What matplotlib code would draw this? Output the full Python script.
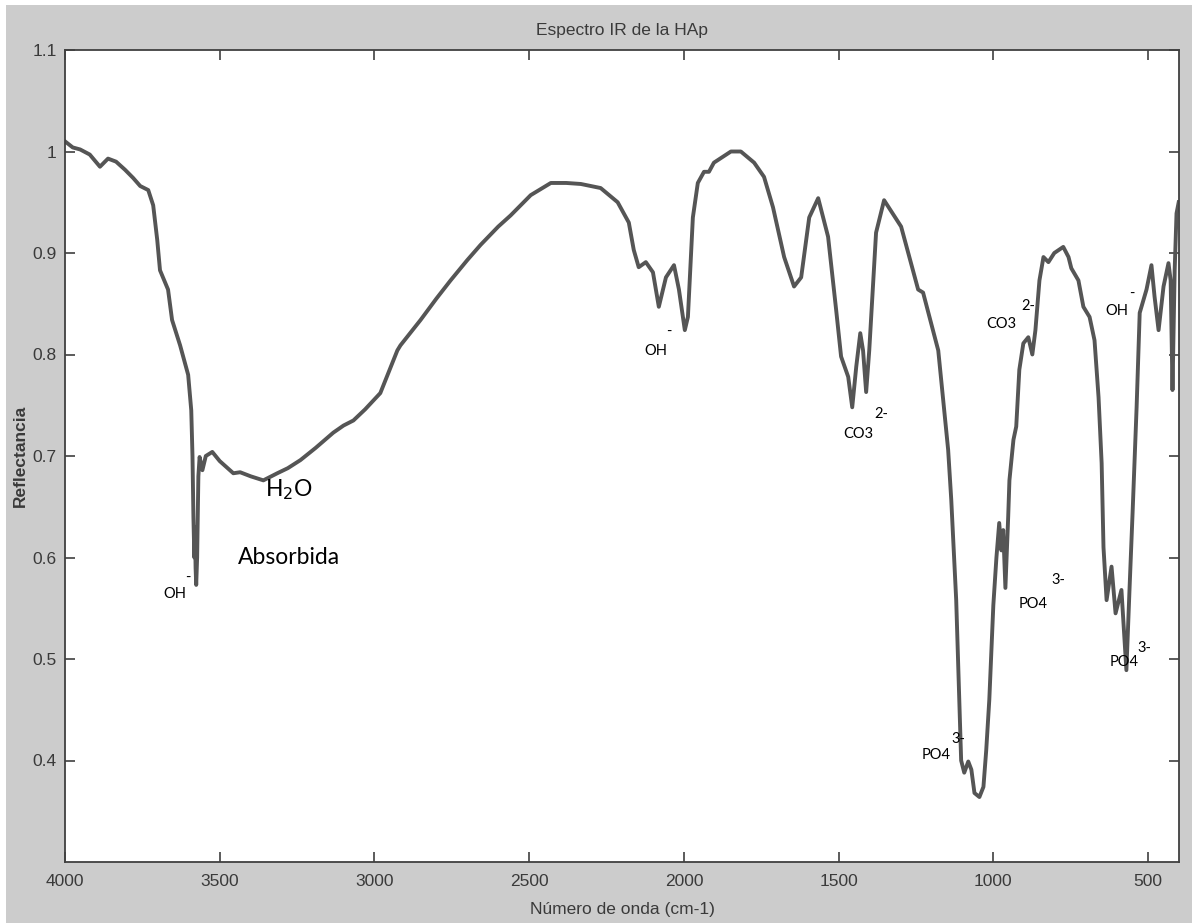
import matplotlib
matplotlib.use("Agg")
import matplotlib.pyplot as plt
from matplotlib.patches import Rectangle
from matplotlib.ticker import FuncFormatter

# FTIR spectrum of hydroxyapatite (wavenumber in cm-1, reflectance)
wavenumber = [
    4000, 3975, 3951, 3920, 3887, 3861, 3835, 3806, 3780, 3757, 3731, 3715,
    3702, 3693, 3667, 3654, 3628, 3602, 3592, 3588, 3585, 3582, 3580, 3578,
    3576, 3573, 3569, 3565, 3556, 3545, 3524, 3500, 3456, 3434, 3400, 3359,
    3314, 3280, 3239, 3190, 3133, 3100, 3068, 3030, 2981, 2964, 2926, 2916,
    2851, 2800, 2754, 2700, 2657, 2600, 2560, 2495, 2430, 2380, 2333, 2269,
    2214, 2178, 2162, 2146, 2123, 2100, 2081, 2058, 2032, 2016, 1997, 1987,
    1971, 1955, 1935, 1919, 1903, 1848, 1816, 1773, 1741, 1712, 1676, 1644,
    1621, 1595, 1566, 1534, 1508, 1492, 1469, 1456, 1443, 1430, 1421, 1411,
    1401, 1379, 1353, 1298, 1243, 1227, 1178, 1146, 1136, 1120, 1110, 1104,
    1094, 1081, 1071, 1061, 1045, 1032, 1023, 1013, 1000, 990, 981, 974,
    968, 961, 952, 948, 935, 926, 916, 903, 887, 874, 864, 851,
    838, 822, 803, 774, 757, 748, 725, 709, 689, 673, 660, 650,
    644, 634, 618, 605, 586, 570, 560, 550, 537, 527, 505, 489,
    479, 466, 450, 434, 427, 421, 414, 408, 401,
]
reflectance = [
    1.010, 1.004, 1.002, 0.997, 0.985, 0.993, 0.990, 0.982, 0.974, 0.966, 0.962, 0.947,
    0.913, 0.883, 0.864, 0.834, 0.809, 0.780, 0.745, 0.700, 0.640, 0.600, 0.630, 0.590,
    0.573, 0.600, 0.680, 0.699, 0.686, 0.700, 0.704, 0.695, 0.683, 0.684, 0.680, 0.676,
    0.683, 0.688, 0.696, 0.708, 0.723, 0.730, 0.735, 0.746, 0.762, 0.775, 0.804, 0.809,
    0.834, 0.855, 0.873, 0.893, 0.908, 0.926, 0.937, 0.957, 0.969, 0.969, 0.968, 0.964,
    0.950, 0.930, 0.903, 0.886, 0.891, 0.881, 0.847, 0.876, 0.888, 0.864, 0.824, 0.837,
    0.935, 0.969, 0.980, 0.980, 0.989, 1.000, 1.000, 0.989, 0.975, 0.945, 0.896, 0.867,
    0.876, 0.935, 0.954, 0.916, 0.844, 0.798, 0.778, 0.748, 0.788, 0.821, 0.804, 0.763,
    0.804, 0.920, 0.952, 0.926, 0.864, 0.861, 0.804, 0.706, 0.657, 0.558, 0.460, 0.400,
    0.388, 0.399, 0.391, 0.368, 0.364, 0.374, 0.410, 0.460, 0.553, 0.600, 0.634, 0.607,
    0.627, 0.570, 0.640, 0.676, 0.716, 0.729, 0.785, 0.811, 0.817, 0.800, 0.824, 0.873,
    0.896, 0.891, 0.900, 0.906, 0.896, 0.885, 0.873, 0.847, 0.837, 0.814, 0.758, 0.693,
    0.610, 0.558, 0.591, 0.545, 0.568, 0.489, 0.568, 0.644, 0.748, 0.841, 0.864, 0.888,
    0.857, 0.824, 0.867, 0.890, 0.873, 0.765, 0.883, 0.939, 0.950,
]

x_ticks = [4000, 3500, 3000, 2500, 2000, 1500, 1000, 500]
y_ticks = [0.4, 0.5, 0.6, 0.7, 0.8, 0.9, 1.0, 1.1]

# Band assignments: base label, charge, and where each is written
band_labels = ["OH", "OH", "CO3", "CO3", "OH", "PO4", "PO4", "PO4"]
band_charges = ["-", "-", "2-", "2-", "-", "3-", "3-", "3-"]
band_x = [3644, 2091, 1437, 974, 602, 870, 1184, 576]
band_y = [0.564, 0.803, 0.722, 0.830, 0.843, 0.554, 0.405, 0.497]
charge_x = [3602, 2050, 1362, 888, 553, 789, 1113, 511]
charge_y = [0.580, 0.822, 0.741, 0.848, 0.860, 0.578, 0.421, 0.511]

tick_font = ["Liberation Sans Narrow", "Liberation Sans", "DejaVu Sans"]
note_font = ["Lato", "DejaVu Sans"]
text_gray = "#3a3a3a"

fig = plt.figure(figsize=(11.92, 9.23), dpi=100, facecolor="white")
fig.patches.append(Rectangle((6 / 1192, 0), 1 - 6 / 1192, 1 - 5 / 923,
                             transform=fig.transFigure, facecolor="#cccccc",
                             edgecolor="none", zorder=-10))

ax = fig.add_axes([65 / 1192, 1 - 862 / 923, (1179 - 65) / 1192, (862 - 50) / 923])
ax.set_zorder(1)
ax.set_facecolor("white")
ax.plot(wavenumber, reflectance, color="#555555", lw=2.8, solid_joinstyle="round")

ax.set_xlim(4000, 400)
ax.set_ylim(0.3, 1.1)
ax.set_xticks(x_ticks)
ax.set_yticks(y_ticks)
ax.yaxis.set_major_formatter(FuncFormatter(lambda v, p: f"{v:g}"))
ax.tick_params(direction="in", length=7, width=1.2, color="#404040",
               top=True, right=True, labelsize=12.5, labelcolor=text_gray)
ax.tick_params(axis="x", pad=9)
ax.tick_params(axis="y", pad=6)
for lab in ax.get_xticklabels() + ax.get_yticklabels():
    lab.set_family(tick_font)
for sp in ax.spines.values():
    sp.set_color("#404040")
    sp.set_linewidth(1.3)

ax.set_title("Espectro IR de la HAp", family=tick_font, fontsize=12.5,
             color=text_gray, pad=11)
ax.set_xlabel("Número de onda (cm-1)", family=tick_font, fontsize=12.5,
              color=text_gray, labelpad=9)
ax.set_ylabel("Reflectancia", family=tick_font, fontsize=12.5,
              color=text_gray, fontweight="bold", labelpad=3)

for lab, ch, bx, by, cx, cy in zip(band_labels, band_charges, band_x, band_y,
                                   charge_x, charge_y):
    ax.text(bx, by, lab, family=note_font, fontsize=10.5, color="black",
            ha="center", va="center")
    ax.text(cx, cy, ch, family=note_font, fontsize=10.5, color="black",
            ha="center", va="center")

ax.text(3275, 0.667, "H$_2$O", family=note_font, fontsize=16.5, color="black",
        ha="center", va="center")
ax.text(3275, 0.600, "Absorbida", family=note_font, fontsize=16.5, color="black",
        ha="center", va="center")

fig.savefig("out.png", dpi=100, facecolor=fig.get_facecolor())
